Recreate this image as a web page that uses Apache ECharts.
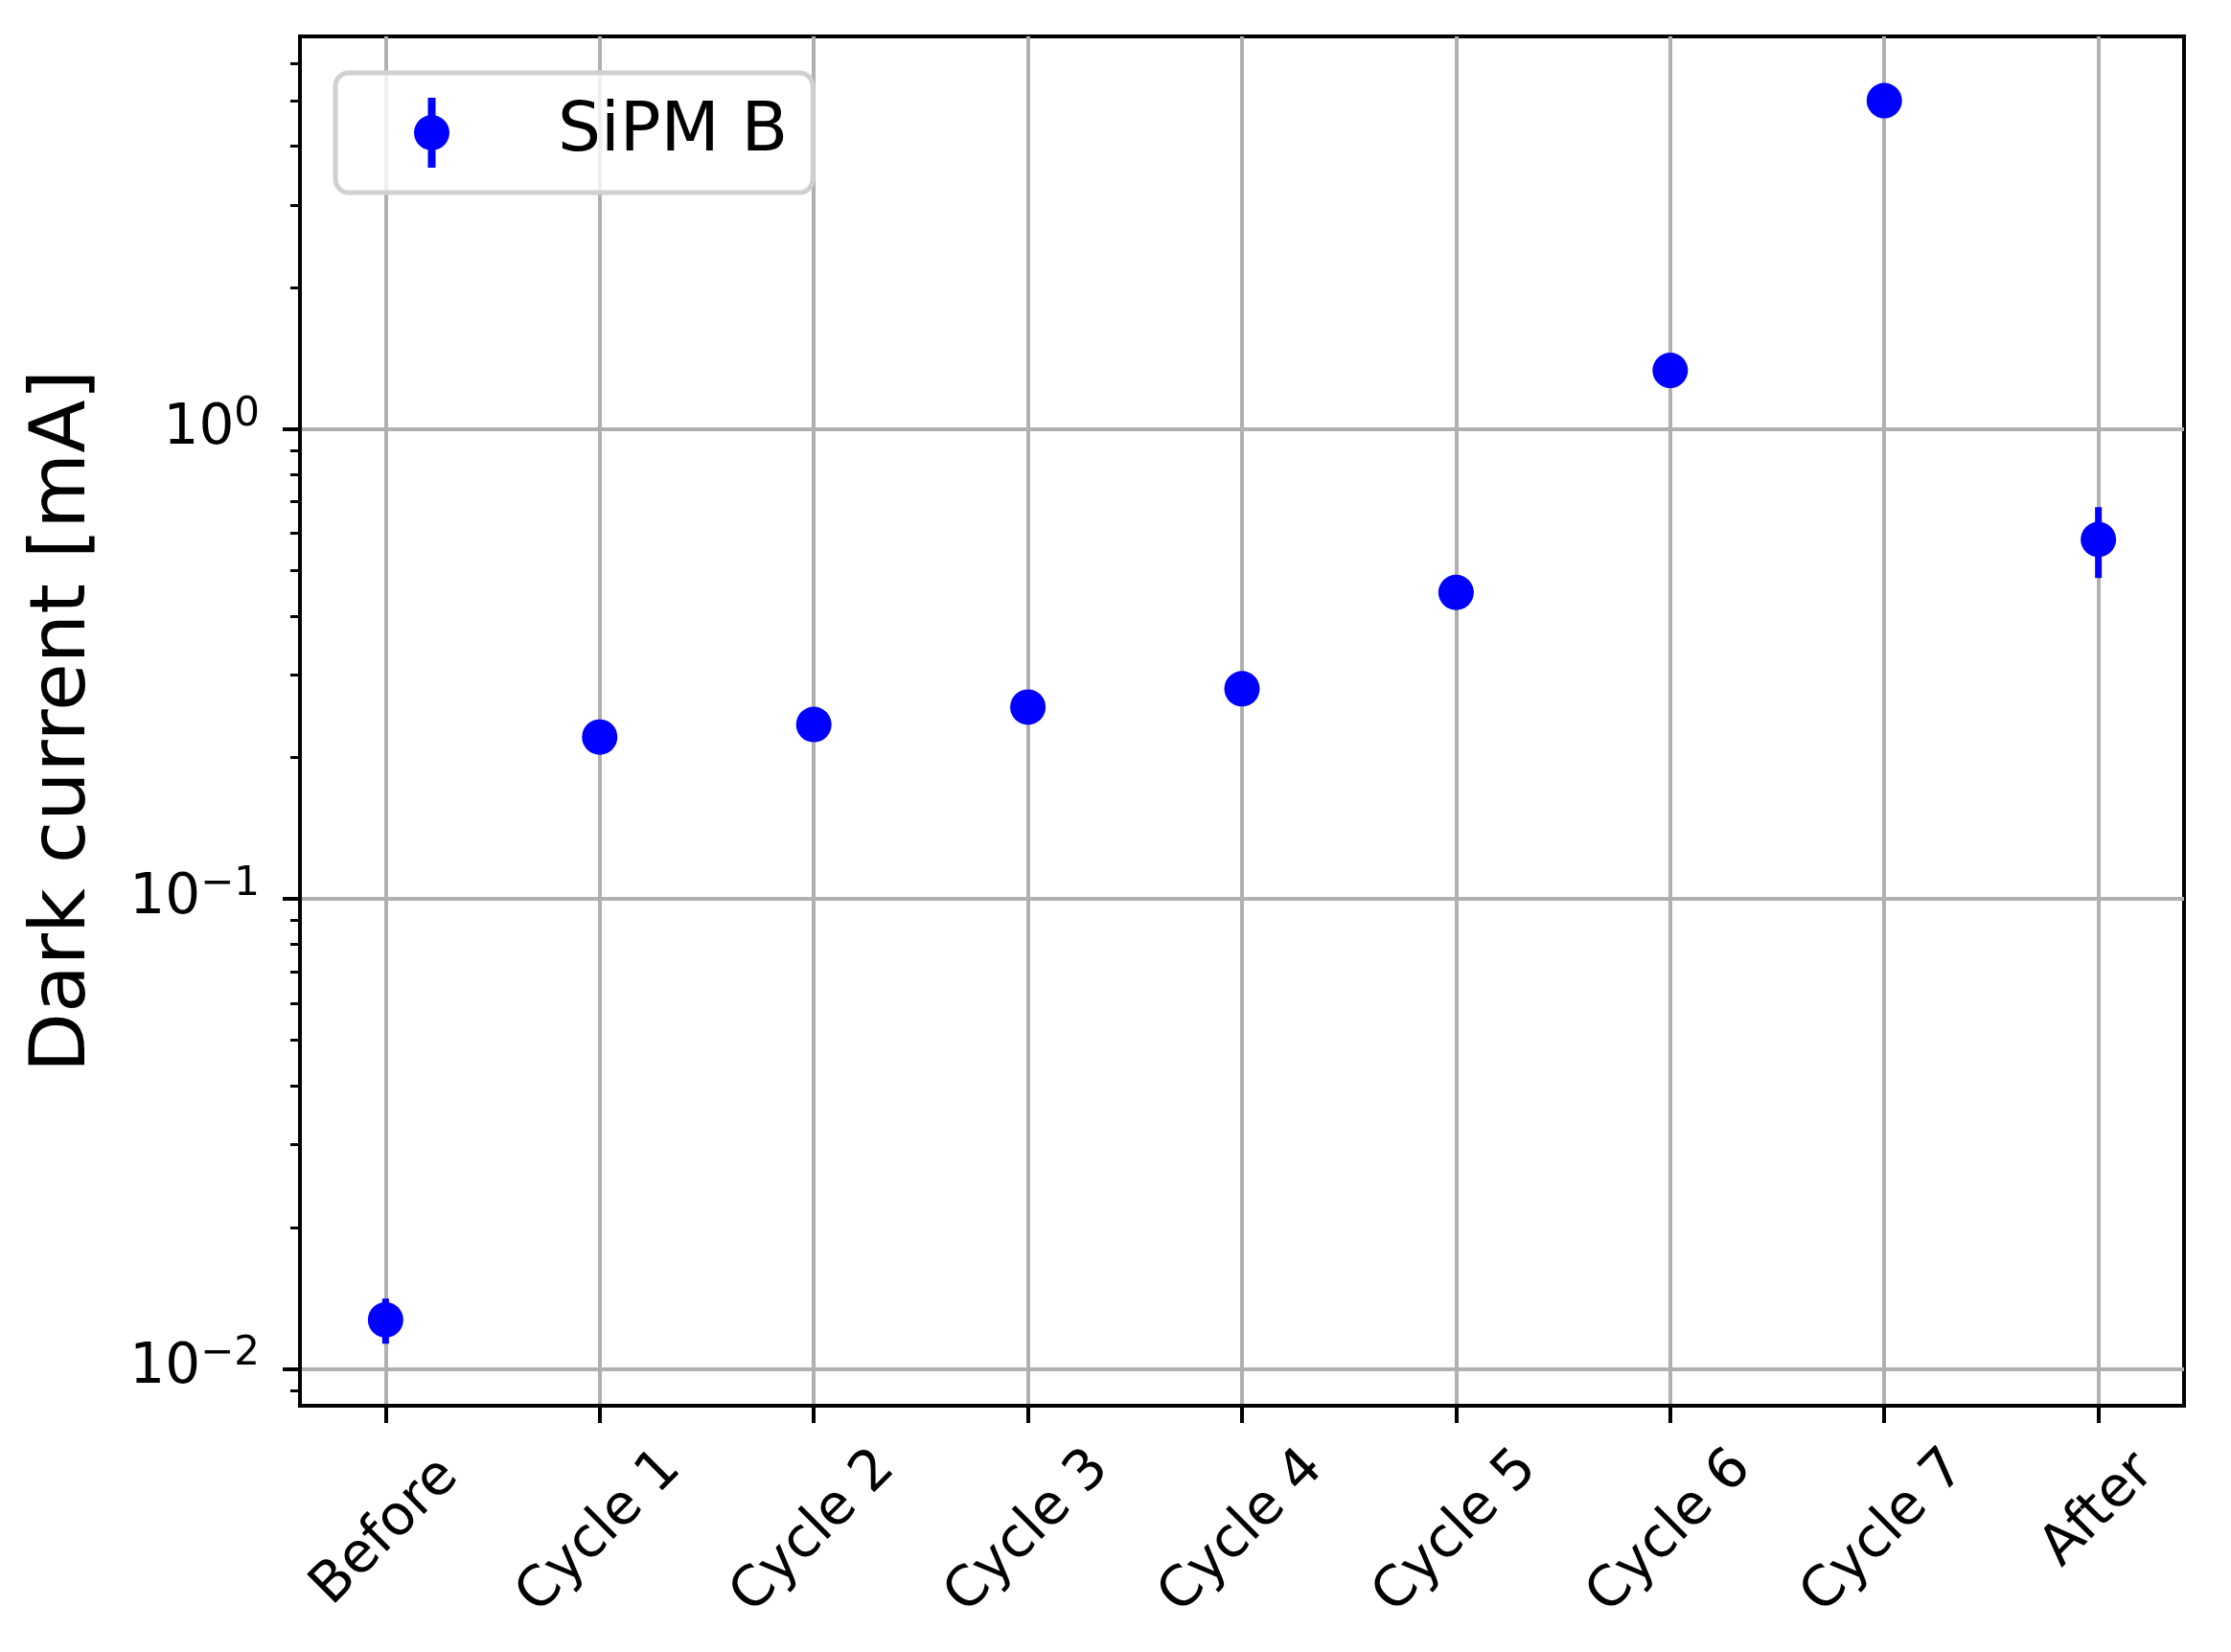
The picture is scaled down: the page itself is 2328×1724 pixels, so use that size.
<!DOCTYPE html>
<html>
<head>
<meta charset="UTF-8">
<title>dark-current-sipm-b</title>
<script src="https://cdn.jsdelivr.net/npm/echarts@6.0.0/dist/echarts.min.js"></script>
<style>
html, body { margin: 0; padding: 0; background: #ffffff; }
#main { width: 2328px; height: 1724px; }
</style>
</head>
<body>
<div id="main"></div>
<script>
// measurement steps
var categories = ['Before', 'Cycle 1', 'Cycle 2', 'Cycle 3', 'Cycle 4', 'Cycle 5', 'Cycle 6', 'Cycle 7', 'After'];
// dark current [mA] and its uncertainty
var current = [0.0127, 0.221, 0.235, 0.256, 0.280, 0.449, 1.333, 5.00, 0.582];
var currentErr = [0.0014, 0.006, 0.006, 0.007, 0.008, 0.012, 0.035, 0.13, 0.100];
// log axis ticks
var majorTicks = [0.01, 0.1, 1];
var minorTicks = [0.009, 0.02, 0.03, 0.04, 0.05, 0.06, 0.07, 0.08, 0.09,
                  0.2, 0.3, 0.4, 0.5, 0.6, 0.7, 0.8, 0.9, 2, 3, 4, 5, 6];
var catIndex = [0, 1, 2, 3, 4, 5, 6, 7, 8];
var yMin = 0.00834, yMax = 6.85;

var FONT = 'DejaVu Sans';
var BLUE = '#0000ff';

var points = [], errData = [];
for (var i = 0; i < categories.length; i++) {
  points.push([i, current[i]]);
  errData.push([i, current[i], currentErr[i]]);
}

var myChart = echarts.init(document.getElementById('main'), null, { renderer: 'canvas' });

var option = {
  animation: false,
  backgroundColor: '#ffffff',
  grid: {
    left: 313, top: 38, right: 49, bottom: 257,
    show: true, borderColor: '#000000', borderWidth: 4,
    containLabel: false, outerBoundsMode: 'none'
  },
  legend: {
    data: ['SiPM B'],
    left: 350, top: 76,
    orient: 'horizontal',
    icon: 'path://M14.5,0 h8 v73 h-8 Z M0,36.5 a18.5,18.5 0 1,1 37,0 a18.5,18.5 0 1,1 -37,0 Z',
    itemWidth: 37, itemHeight: 73,
    padding: [26, 26, 26, 82],
    backgroundColor: 'rgba(255,255,255,0.8)',
    borderColor: '#d0d0d0', borderWidth: 5, borderRadius: 14,
    selectedMode: false,
    textStyle: { fontFamily: FONT, fontSize: 71, color: '#000000', padding: [0, 0, 0, 108] }
  },
  xAxis: {
    type: 'value',
    min: -0.4, max: 8.4,
    axisLine: { show: true, onZero: false, lineStyle: { color: '#000000', width: 4 } },
    axisTick: { show: true, length: 18, lineStyle: { color: '#000000', width: 4 }, customValues: catIndex },
    splitLine: { show: true, lineStyle: { color: '#b0b0b0', width: 4 } },
    axisLabel: {
      customValues: catIndex,
      rotate: 45, align: 'center', verticalAlign: 'middle', margin: 132,
      fontFamily: FONT, fontSize: 58, color: '#000000',
      formatter: function (v) {
        var k = Math.round(v);
        if (Math.abs(v - k) > 1e-6 || k < 0 || k >= categories.length) return '';
        if (categories[k] === 'After') return '{a|' + categories[k] + '}';
        return '{n|' + categories[k] + '}';
      },
      rich: {
        n: { fontFamily: FONT, fontSize: 58, color: '#000000' },
        a: { fontFamily: FONT, fontSize: 58, color: '#000000', padding: [0, 0, 32, 32] }
      }
    }
  },
  yAxis: [{
    type: 'log', logBase: 10,
    min: yMin, max: yMax,
    position: 'left',
    name: 'Dark current [mA]',
    nameLocation: 'middle', nameGap: 206,
    nameTextStyle: { fontFamily: FONT, fontSize: 81, color: '#000000' },
    axisLine: { show: true, onZero: false, lineStyle: { color: '#000000', width: 4 } },
    axisTick: { show: true, length: 18, lineStyle: { color: '#000000', width: 4 }, customValues: majorTicks },
    splitLine: { show: true, lineStyle: { color: '#b0b0b0', width: 4 } },
    minorTick: { show: false },
    axisLabel: {
      customValues: majorTicks,
      margin: 42,
      formatter: function (v) {
        var e = Math.round(Math.log(v) / Math.LN10);
        if (Math.abs(Math.log(v) / Math.LN10 - e) > 1e-6) return '';
        var ex = e < 0 ? '\u2212' + (-e) : String(e);
        return '{b|10}{s|' + ex + '}';
      },
      rich: {
        b: { fontFamily: FONT, fontSize: 58, lineHeight: 58, color: '#000000', verticalAlign: 'bottom' },
        s: { fontFamily: FONT, fontSize: 42, lineHeight: 42, color: '#000000', verticalAlign: 'bottom', padding: [0, 0, 23, 0] }
      }
    }
  }, {
    // minor ticks of the log axis
    type: 'log', logBase: 10,
    min: yMin, max: yMax,
    position: 'left', offset: 0,
    axisLine: { show: false, onZero: false },
    axisTick: { show: true, length: 10, lineStyle: { color: '#000000', width: 3 }, customValues: minorTicks },
    axisLabel: { show: false },
    splitLine: { show: false },
    minorTick: { show: false }
  }],
  series: [{
    name: 'err',
    type: 'custom',
    xAxisIndex: 0, yAxisIndex: 0,
    data: errData,
    encode: { x: 0, y: 1 },
    z: 2,
    renderItem: function (params, api) {
      var x = api.value(0), y = api.value(1), e = api.value(2);
      var top = api.coord([x, y + e]);
      var bot = api.coord([x, y - e]);
      return {
        type: 'line',
        shape: { x1: top[0], y1: top[1], x2: bot[0], y2: bot[1] },
        style: { stroke: BLUE, lineWidth: 7 }
      };
    }
  }, {
    name: 'SiPM B',
    type: 'scatter',
    xAxisIndex: 0, yAxisIndex: 0,
    data: points,
    symbol: 'circle',
    symbolSize: 37,
    z: 3,
    itemStyle: { color: BLUE, opacity: 1 }
  }]
};

myChart.setOption(option);
</script>
</body>
</html>
